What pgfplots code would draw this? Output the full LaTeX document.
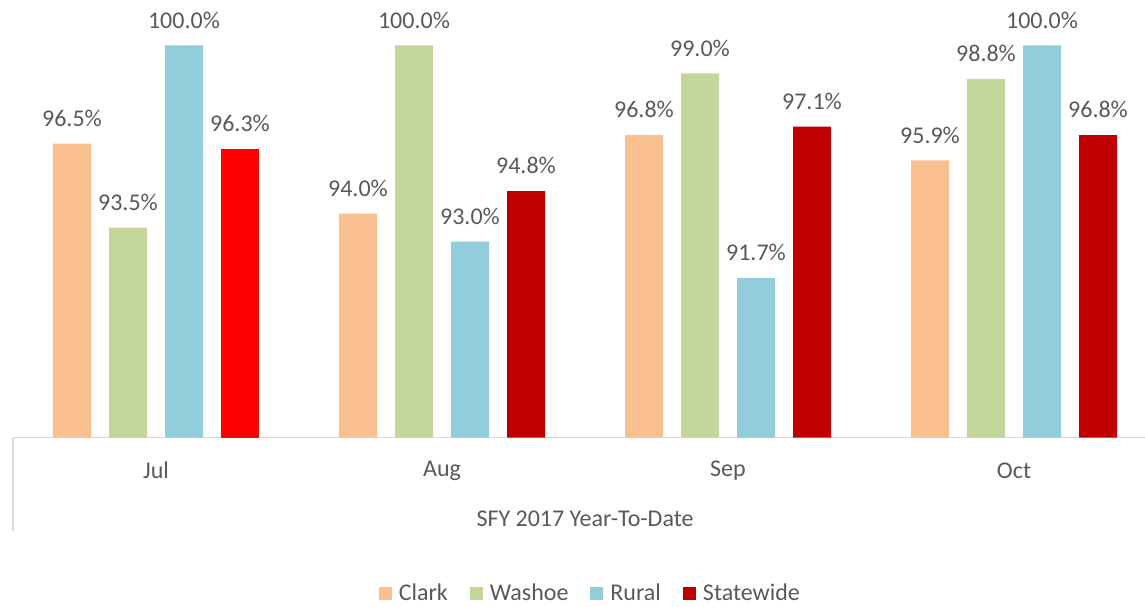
\documentclass[border=0pt]{standalone}
\usepackage{pgfplots}
\pgfplotsset{compat=1.18}
\usepackage{fontspec}
\setmainfont{Carlito}
\definecolor{cClark}{HTML}{FAC090}
\definecolor{cWashoe}{HTML}{C4D79B}
\definecolor{cRural}{HTML}{92CDDC}
\definecolor{cState}{HTML}{C00000}
\definecolor{cRed}{HTML}{FF0000}
\definecolor{txt}{HTML}{595959}
\definecolor{axl}{HTML}{D9D9D9}
\begin{document}
\begin{tikzpicture}
\useasboundingbox (0,0) rectangle (572.5pt,303pt);
\begin{axis}[
  at={(6.5pt,84.25pt)}, anchor=south west,
  scale only axis, width=566pt, height=196pt,
  xmin=-0.5, xmax=3.458, ymin=86, ymax=100,
  enlargelimits=false, clip=false,
  ybar, bar width=19pt,
  axis x line*=bottom, hide y axis,
  x axis line style={-, color=axl, line width=0.8pt},
  xtick={0,1,2,3}, xticklabels={Jul,Aug,Sep,Oct},
  major tick length=0pt,
  xticklabel style={anchor=center, yshift=-16.5pt, font=\fontsize{12}{14}\selectfont, text=txt},
  /pgf/number format/assume math mode=true,
  nodes near coords={\pgfmathprintnumber[fixed,fixed zerofill,precision=1]{\pgfplotspointmeta}\%},
  every node near coord/.append style={font=\fontsize{12}{14}\selectfont, text=txt, yshift=5pt},
  legend style={at={(0.51,-0.398)}, anchor=center, draw=none, fill=none,
    legend columns=-1, font=\fontsize{12}{14}\selectfont, text=txt,
    /tikz/every odd column/.style={column sep=2.5pt},
    /tikz/every even column/.style={column sep=10pt},
    nodes={inner sep=1pt}},
  legend image code/.code={\fill[#1] (0pt,-3.2pt) rectangle (6.5pt,3.3pt);},
]
\addplot[fill=cClark, draw=none, bar shift=-42pt] coordinates {(0,96.5) (1,94.0) (2,96.8) (3,95.9)};
\addplot[fill=cWashoe, draw=none, bar shift=-14pt] coordinates {(0,93.5) (1,100.0) (2,99.0) (3,98.8)};
\addplot[fill=cRural, draw=none, bar shift=14pt] coordinates {(0,100.0) (1,93.0) (2,91.7) (3,100.0)};
\addplot[fill=cState, draw=none, bar shift=42pt] coordinates {(1,94.8) (2,97.1) (3,96.8)};
\addplot[fill=cRed, draw=none, bar shift=42pt, forget plot] coordinates {(0,96.3)};
\legend{Clark,Washoe,Rural,Statewide}
\draw[axl, line width=0.8pt] (axis cs:-0.5,86) -- ([yshift=-46.5pt]axis cs:-0.5,86);
\node[text=txt, font=\fontsize{12}{14}\selectfont] at ([yshift=-40.5pt]axis cs:1.5,86) {SFY 2017 Year-To-Date};
\end{axis}
\end{tikzpicture}
\end{document}
